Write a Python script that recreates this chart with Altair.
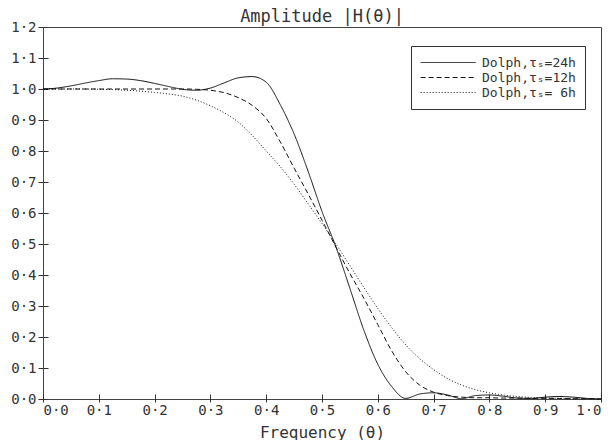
import altair as alt
import pandas as pd

freq = [0.000, 0.025, 0.050, 0.075, 0.100, 0.125, 0.150, 0.175, 0.200, 0.225,
        0.250, 0.275, 0.300, 0.325, 0.350, 0.375, 0.400, 0.425, 0.450, 0.475,
        0.500, 0.525, 0.550, 0.575, 0.600, 0.625, 0.650, 0.675, 0.700, 0.725,
        0.750, 0.775, 0.800, 0.825, 0.850, 0.875, 0.900, 0.925, 0.950, 0.975, 1.000]

h24 = [1.000, 1.003, 1.010, 1.019, 1.027, 1.033, 1.032, 1.027, 1.018, 1.008,
       0.999, 0.996, 1.003, 1.020, 1.036, 1.040, 1.022, 0.950, 0.855, 0.735,
       0.605, 0.490, 0.357, 0.222, 0.112, 0.040, 0.002, 0.016, 0.020, 0.013,
       0.001, 0.011, 0.013, 0.009, 0.003, 0.002, 0.006, 0.008, 0.006, 0.002, 0.000]

h12 = [1.000, 1.000, 1.000, 1.000, 1.000, 1.000, 1.000, 1.000, 1.000, 1.000,
       1.000, 0.999, 0.996, 0.988, 0.972, 0.947, 0.905, 0.830, 0.745, 0.662,
       0.577, 0.490, 0.405, 0.325, 0.240, 0.155, 0.088, 0.045, 0.022, 0.011,
       0.006, 0.004, 0.004, 0.003, 0.003, 0.002, 0.002, 0.002, 0.001, 0.001, 0.000]

h6 = [1.000, 1.000, 1.000, 1.000, 0.999, 0.998, 0.996, 0.993, 0.989, 0.984,
      0.977, 0.964, 0.946, 0.923, 0.893, 0.850, 0.800, 0.750, 0.693, 0.630,
      0.566, 0.500, 0.430, 0.360, 0.292, 0.230, 0.175, 0.130, 0.095, 0.066,
      0.045, 0.030, 0.020, 0.013, 0.008, 0.005, 0.003, 0.002, 0.001, 0.001, 0.000]

series = ["Dolph,τₛ=24h", "Dolph,τₛ=12h", "Dolph,τₛ= 6h"]
ticks = [0.0, 0.1, 0.2, 0.3, 0.4, 0.5, 0.6, 0.7, 0.8, 0.9, 1.0]
yticks = [0.0, 0.1, 0.2, 0.3, 0.4, 0.5, 0.6, 0.7, 0.8, 0.9, 1.0, 1.1, 1.2]

rows = []
for name, vals in zip(series, [h24, h12, h6]):
    for f, v in zip(freq, vals):
        rows.append({"f": f, "h": v, "s": name})
df = pd.DataFrame(rows)

FONT = "DejaVu Sans Mono"
lab = "replace(format(datum.value, '.1f'), '.', '·')"

chart = alt.Chart(df).mark_line(color="#111", strokeWidth=1, interpolate="monotone").encode(
    x=alt.X("f:Q", scale=alt.Scale(domain=[0, 1], nice=False),
            axis=alt.Axis(title="Frequency (θ)", values=ticks, labelExpr=lab, grid=False,
                          domain=False, offset=-5, tickSize=8, tickColor="#333",
                          labelFont=FONT, labelFontSize=14, labelColor="#333", labelPadding=1,
                          titleFont=FONT, titleFontSize=16, titleFontWeight="normal",
                          titleColor="#333", titlePadding=7)),
    y=alt.Y("h:Q", scale=alt.Scale(domain=[0, 1.2], nice=False),
            axis=alt.Axis(title=None, values=yticks, labelExpr=lab, grid=False,
                          domain=False, offset=-5, tickSize=10, tickColor="#333",
                          labelFont=FONT, labelFontSize=14, labelColor="#333", labelPadding=2)),
    strokeDash=alt.StrokeDash("s:N", scale=alt.Scale(domain=series, range=[[1, 0], [5, 3], [1, 2]]),
                              legend=alt.Legend(title=None, orient="none", legendX=368, legendY=19,
                                                strokeColor="#333", fillColor="white", padding=9,
                                                symbolType="M-1,0H7", symbolSize=189,
                                                symbolStrokeColor="#111", symbolStrokeWidth=1,
                                                labelFont=FONT, labelFontSize=13, labelColor="#333",
                                                rowPadding=-1, labelOffset=47)),
    order=alt.Order("f:Q"),
).properties(
    width=558, height=372,
    title=alt.TitleParams("Amplitude |H(θ)|", font=FONT, fontSize=17, fontWeight="normal",
                          color="#333", offset=-6),
    padding={"left": 2, "top": 0, "right": 0, "bottom": 0},
).configure_view(stroke="#444", strokeWidth=1)

chart.save("out.html", embed_options={"renderer": "svg", "actions": False})
